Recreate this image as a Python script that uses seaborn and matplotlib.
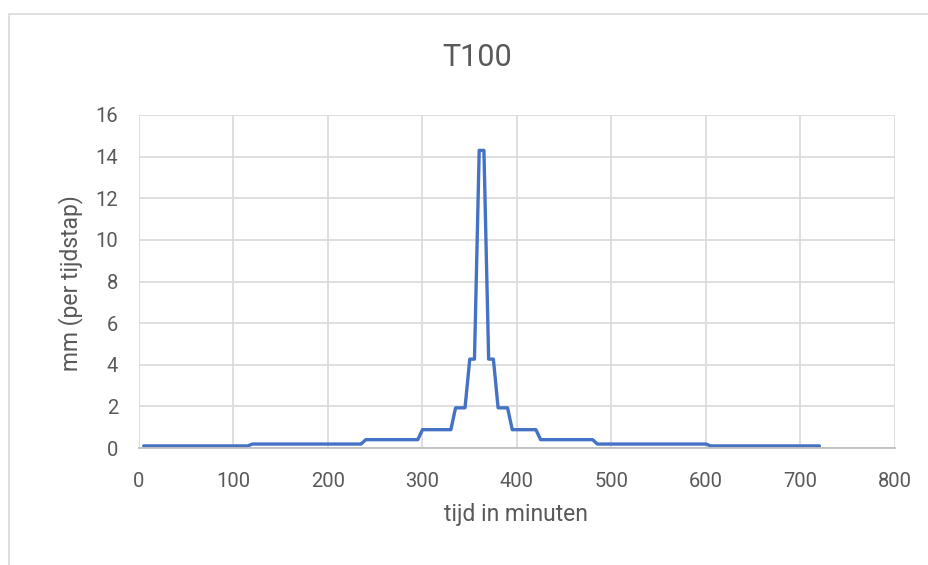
import numpy as np
import pandas as pd
import matplotlib
matplotlib.use("Agg")
import matplotlib.pyplot as plt
from matplotlib.patches import Rectangle
import seaborn as sns

# tijdstappen van 5 minuten
tijd = np.arange(5, 725, 5)

# neerslag per tijdstap (mm)
neerslag = [
    0.1, 0.1, 0.1, 0.1, 0.1, 0.1, 0.1, 0.1, 0.1, 0.1, 0.1, 0.1,
    0.1, 0.1, 0.1, 0.1, 0.1, 0.1, 0.1, 0.1, 0.1, 0.1, 0.1, 0.19,
    0.19, 0.19, 0.19, 0.19, 0.19, 0.19, 0.19, 0.19, 0.19, 0.19, 0.19, 0.19,
    0.19, 0.19, 0.19, 0.19, 0.19, 0.19, 0.19, 0.19, 0.19, 0.19, 0.19, 0.4,
    0.4, 0.4, 0.4, 0.4, 0.4, 0.4, 0.4, 0.4, 0.4, 0.4, 0.4, 0.88,
    0.88, 0.88, 0.88, 0.88, 0.88, 0.88, 1.93, 1.93, 1.93, 4.27, 4.27, 14.3,
    14.3, 4.27, 4.27, 1.93, 1.93, 1.93, 0.88, 0.88, 0.88, 0.88, 0.88, 0.88,
    0.4, 0.4, 0.4, 0.4, 0.4, 0.4, 0.4, 0.4, 0.4, 0.4, 0.4, 0.4,
    0.19, 0.19, 0.19, 0.19, 0.19, 0.19, 0.19, 0.19, 0.19, 0.19, 0.19, 0.19,
    0.19, 0.19, 0.19, 0.19, 0.19, 0.19, 0.19, 0.19, 0.19, 0.19, 0.19, 0.19,
    0.1, 0.1, 0.1, 0.1, 0.1, 0.1, 0.1, 0.1, 0.1, 0.1, 0.1, 0.1,
    0.1, 0.1, 0.1, 0.1, 0.1, 0.1, 0.1, 0.1, 0.1, 0.1, 0.1, 0.1,
]

x_ticks = [0, 100, 200, 300, 400, 500, 600, 700, 800]
y_ticks = [0, 2, 4, 6, 8, 10, 12, 14, 16]

df = pd.DataFrame({"tijd": tijd, "mm": neerslag})

sns.set_theme(style="whitegrid")
plt.rcParams["font.family"] = ["Roboto", "DejaVu Sans"]

grey_text = "#595959"
grid_col = "#d9d9d9"

fig = plt.figure(figsize=(9.29, 5.65), dpi=100)
ax = fig.add_axes([139 / 929, 1 - 448 / 565, 756 / 929, 333 / 565])

sns.lineplot(data=df, x="tijd", y="mm", ax=ax, color="#4472C4", linewidth=2.4)

ax.set_xlim(0, 800)
ax.set_ylim(0, 16)
ax.set_xticks(x_ticks)
ax.set_yticks(y_ticks)
ax.grid(True, color=grid_col, linewidth=1.2)
ax.set_facecolor("white")
for side in ["top", "right", "left"]:
    ax.spines[side].set_visible(False)
ax.spines["bottom"].set_color("#bfbfbf")
ax.spines["bottom"].set_linewidth(1.3)
ax.tick_params(axis="both", length=0, labelsize=14.5, labelcolor=grey_text)
ax.tick_params(axis="x", pad=17)
ax.tick_params(axis="y", pad=15)

ax.set_xlabel("tijd in minuten", fontsize=16.5, color=grey_text)
ax.set_ylabel("mm (per tijdstap)", fontsize=16.5, color=grey_text)
ax.xaxis.set_label_coords(0.499, -0.165)
ax.yaxis.set_label_coords(-0.074, 0.495)

fig.text(477 / 929, 1 - 58 / 565, "T100", fontsize=22, color=grey_text,
         ha="center", va="center")

# rand van het grafiekgebied
fig.add_artist(Rectangle((9 / 929, -0.1), 1.2, 1.1 - 14 / 565,
                         transform=fig.transFigure, fill=False,
                         edgecolor=grid_col, linewidth=1.2))

fig.savefig("out.png", dpi=100, facecolor="white")
